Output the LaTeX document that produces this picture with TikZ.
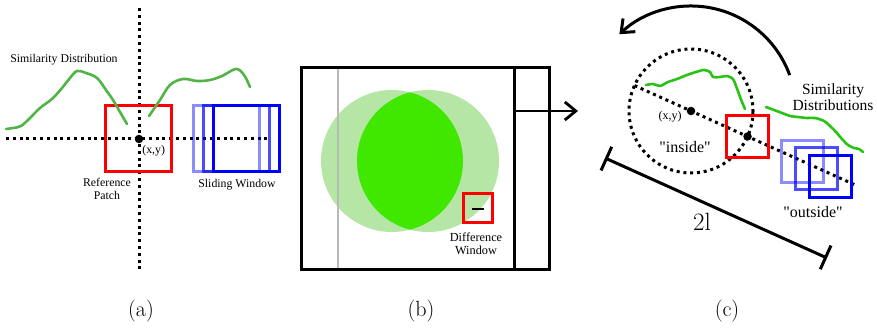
\documentclass[tikz,border=0pt]{standalone}
\usepackage{fontspec}
\newfontfamily\tnr{Liberation Serif}
\usetikzlibrary{arrows.meta,positioning,calc}

\definecolor{curvegreen}{RGB}{80,180,70}
\definecolor{brightgreen}{RGB}{40,195,20}
\definecolor{palegreen}{RGB}{181,230,165}
\definecolor{lensgreen}{RGB}{64,232,0}

\begin{document}
\begin{tikzpicture}[
  x=1pt, y=-1pt,
  lbl/.style={font={\tnr\fontsize{11.8}{13}\selectfont}, align=center, inner sep=0pt},
  biglbl/.style={font={\tnr\fontsize{15.5}{16}\selectfont}, align=center, inner sep=0pt},
  sublbl/.style={font={\fontsize{22}{26}\selectfont}, inner sep=0pt},
  dots/.style={line width=3pt, dash pattern=on 3pt off 3.8pt},
  patch/.style={draw=red, line width=3pt, inner sep=0pt},
  win/.style={draw=blue, line width=3pt, inner sep=0pt},
  pt/.style={circle, fill, inner sep=0pt, minimum size=8.5pt},
  sim/.style={line width=2.6pt, line cap=round, line join=round},
  >={Straight Barb[length=11pt, width=18pt]}
]
\useasboundingbox (0,0) rectangle (877,328);

% (a)
\draw[dots] (139,8) -- (139,270);
\draw[dots] (6,139) -- (270,139);
\node[pt] (xya) at (139,139) {};
\node[lbl, below right=3pt and 0pt of xya] (xyalbl) {(x,y)};
\node[patch, minimum size=66pt] (refpatch) at (138,139) {};
\foreach \dx/\op in {0/0.45, 10/0.7, 20/1}
  \node[win, minimum size=66pt, opacity=\op] (slide\dx) at (226.5+\dx,139) {};
\node[lbl] (reflbl) at (107,189) {Reference\\Patch};
\node[lbl] (slidelbl) at (237,185) {Sliding Window};
\draw[sim, curvegreen] plot[smooth, tension=0.6] coordinates {(6,129) (13,128) (21,126) (30,118) (40,108) (52,99) (62,88) (70,78) (77,71) (86,73) (97,78) (106,90) (113,100) (120,112) (127,124)};
\draw[sim, curvegreen] plot[smooth, tension=0.6] coordinates {(149,116) (160,100) (170,85) (183,79) (197,81) (210,80) (222,76) (236,69) (244,75) (250,87)};
\node[lbl] (simlbl) at (64,60) {Similarity Distribution};
\node[sublbl] (capa) at (141,311) {(a)};

% (b)
\fill[palegreen] (392,161) circle (71);
\fill[palegreen] (428,161) circle (71);
\begin{scope}
  \clip (392,161) circle (71);
  \fill[lensgreen] (428,161) circle (71);
\end{scope}
\draw[gray!55, line width=2.6pt] (338,68) -- (338,270);
\draw[line width=3pt] (301,68) rectangle (549,270);
\draw[line width=3pt] (514,68) -- (514,270);
\node[patch, minimum size=29pt] (diffwin) at (477.5,208.5) {};
\draw[line width=2.6pt] ($(diffwin)+(-6,0.5)$) -- ($(diffwin)+(6,0.5)$);
\node[lbl, font={\tnr\fontsize{12.3}{13}\selectfont}] (difflbl) at (476,244) {Difference\\Window};
\coordinate (boxedge) at (514,111);
\coordinate (panelc) at (578,111);
\draw[->, line width=2.8pt] (boxedge) -- (panelc);
\node[sublbl] (capb) at (421,311) {(b)};

% (c)
\node[pt] (ctr) at (691,111) {};
\draw[dots] (ctr) circle (62);
\coordinate (axisl) at ($(ctr)+(204.25:62)$);
\coordinate (axisr) at ($(ctr)+(24.25:182)$);
\draw[dots] (axisl) -- (axisr);
\node[pt] (rim) at ($(ctr)+(24.25:62)$) {};
\node[patch, minimum size=42pt] (innerpatch) at (rim) {};
\foreach \cx/\cy/\op in {802/161.5/0.45, 816/169/0.7, 830/177/1}
  \node[win, minimum size=42pt, opacity=\op] (outwin\cx) at (\cx,\cy) {};
\draw[sim, brightgreen] plot[smooth, tension=0.5] coordinates {(646,85) (653,84) (660,86) (668,82) (677,79) (687,75) (696,72) (704,70) (710,72) (713,77) (720,77) (727,76) (733,79) (736,86) (739,94) (742,102) (745,109)};
\draw[sim, brightgreen] plot[smooth, tension=0.5] coordinates {(766,107) (774,110) (782,113) (790,116) (798,117) (807,118) (815,118) (824,121) (830,126) (836,132) (842,139) (848,145) (854,148) (859,149) (863,152)};
\node[biglbl] (simclbl) at (833,97) {Similarity\\Distributions};
\node[lbl, font={\tnr\fontsize{12}{13}\selectfont}] (xyclbl) at (670,117) {(x,y)};
\node[biglbl, font={\tnr\fontsize{16}{17}\selectfont}] (inlbl) at (685,147) {"inside"};
\node[biglbl, font={\tnr\fontsize{16}{17}\selectfont}] (outlbl) at (813,212) {"outside"};
\draw[->, line width=3pt] ($(ctr)+(-20:105)$) arc[start angle=-20, end angle=-133, radius=105];
\coordinate (barl) at (605,158);
\coordinate (barr) at (827,258);
\draw[{Bar[width=26pt]}-{Bar[width=26pt]}, line width=3pt] (barl) -- (barr);
\node[sublbl, font={\fontsize{25}{28}\selectfont}] (lenlbl) at (702,222) {2l};
\node[sublbl] (capc) at (727,311) {(c)};
\end{tikzpicture}
\end{document}
